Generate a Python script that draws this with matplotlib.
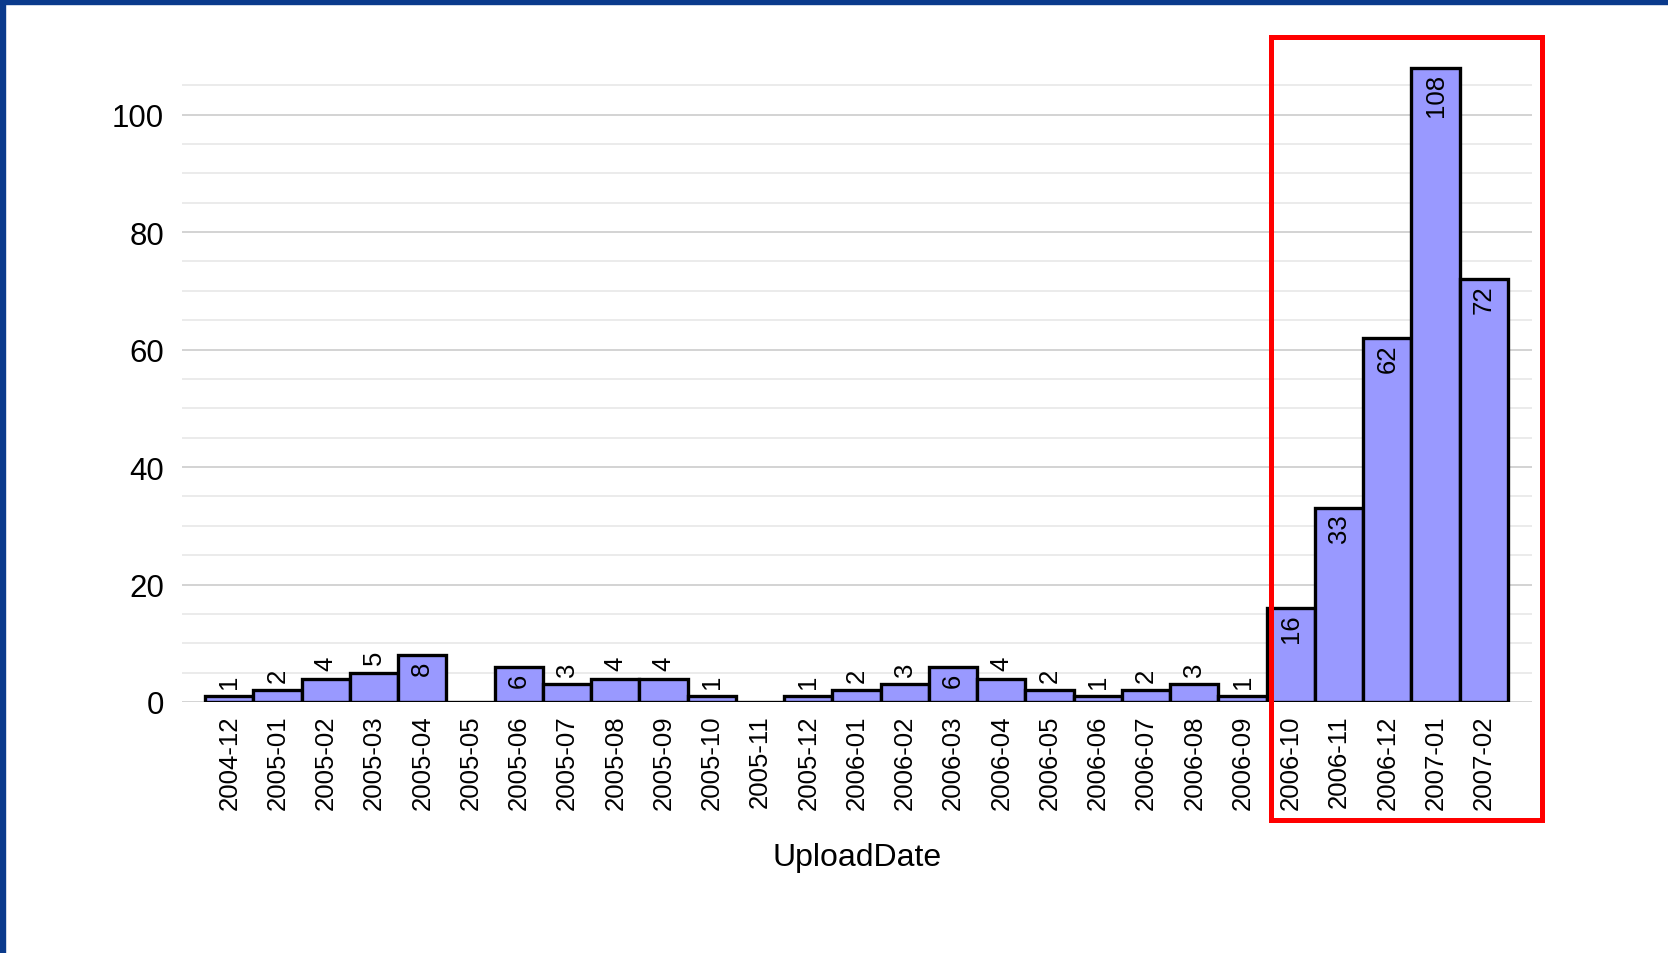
import numpy as np
import matplotlib.pyplot as plt
from matplotlib.patches import Rectangle

months = ['2004-12',
          '2005-01', '2005-02', '2005-03', '2005-04', '2005-05', '2005-06',
          '2005-07', '2005-08', '2005-09', '2005-10', '2005-11', '2005-12',
          '2006-01', '2006-02', '2006-03', '2006-04', '2006-05', '2006-06',
          '2006-07', '2006-08', '2006-09', '2006-10', '2006-11', '2006-12',
          '2007-01', '2007-02']
uploads = [1, 2, 4, 5, 8, 0, 6, 3, 4, 4, 1, 0, 1,
           2, 3, 6, 4, 2, 1, 2, 3, 1, 16, 33, 62, 108, 72]
y_major = [0, 20, 40, 60, 80, 100]
y_minor = list(range(0, 110, 5))

W, H = 1668, 954
fig = plt.figure(figsize=(W / 100, H / 100), dpi=100)
fig.patch.set_facecolor('white')

fam = ['Liberation Sans', 'DejaVu Sans']

ax = fig.add_axes([182 / W, 1 - 703 / H, 1350 / W, (703 - 62.8) / H])
x = np.arange(len(months))
ax.bar(x, uploads, width=1.0, color='#9999ff', edgecolor='black', linewidth=2.4, zorder=3)

ax.set_xlim(-0.98, len(months))
ax.set_ylim(0, 109)
ax.set_yticks(y_major)
ax.set_yticks(y_minor, minor=True)
ax.set_axisbelow(True)
ax.grid(axis='y', which='minor', color='#e8e8e8', linewidth=1.2)
ax.grid(axis='y', which='major', color='#cccccc', linewidth=1.2)
for s in ax.spines.values():
    s.set_visible(False)

ax.set_xticks(x)
ax.set_xticklabels(months, rotation=90, family=fam, fontsize=18.5)
ax.tick_params(axis='x', length=0, pad=9)
ax.tick_params(axis='y', which='both', length=0, pad=13)
for lab in ax.get_yticklabels():
    lab.set_family(fam)
    lab.set_fontsize(22.5)

ax.set_xlabel('UploadDate', family=fam, fontsize=23, labelpad=24)

for xi, v in zip(x, uploads):
    if v == 0:
        continue
    if v >= 6:
        ax.annotate(str(v), (xi, v), xytext=(0, -4), textcoords='offset points',
                    ha='center', va='top', rotation=90, family=fam, fontsize=18.5, zorder=4)
    else:
        ax.annotate(str(v), (xi, v), xytext=(0, 6), textcoords='offset points',
                    ha='center', va='bottom', rotation=90, family=fam, fontsize=18.5, zorder=4)

# slide frame (blue) and red highlight box
fig.patches.append(Rectangle((0, 1 - 5 / H), 1, 5 / H, transform=fig.transFigure,
                             color='#0a3a8c', zorder=0))
fig.patches.append(Rectangle((0, 0), 5 / W, 1, transform=fig.transFigure,
                             color='#0a3a8c', zorder=0))
fig.patches.append(Rectangle((1270.5 / W, 1 - 820.5 / H), 271 / W, 783 / H,
                             transform=fig.transFigure, fill=False,
                             edgecolor='#ff0000', linewidth=3.6, zorder=10))

fig.savefig('out.png', dpi=100)
